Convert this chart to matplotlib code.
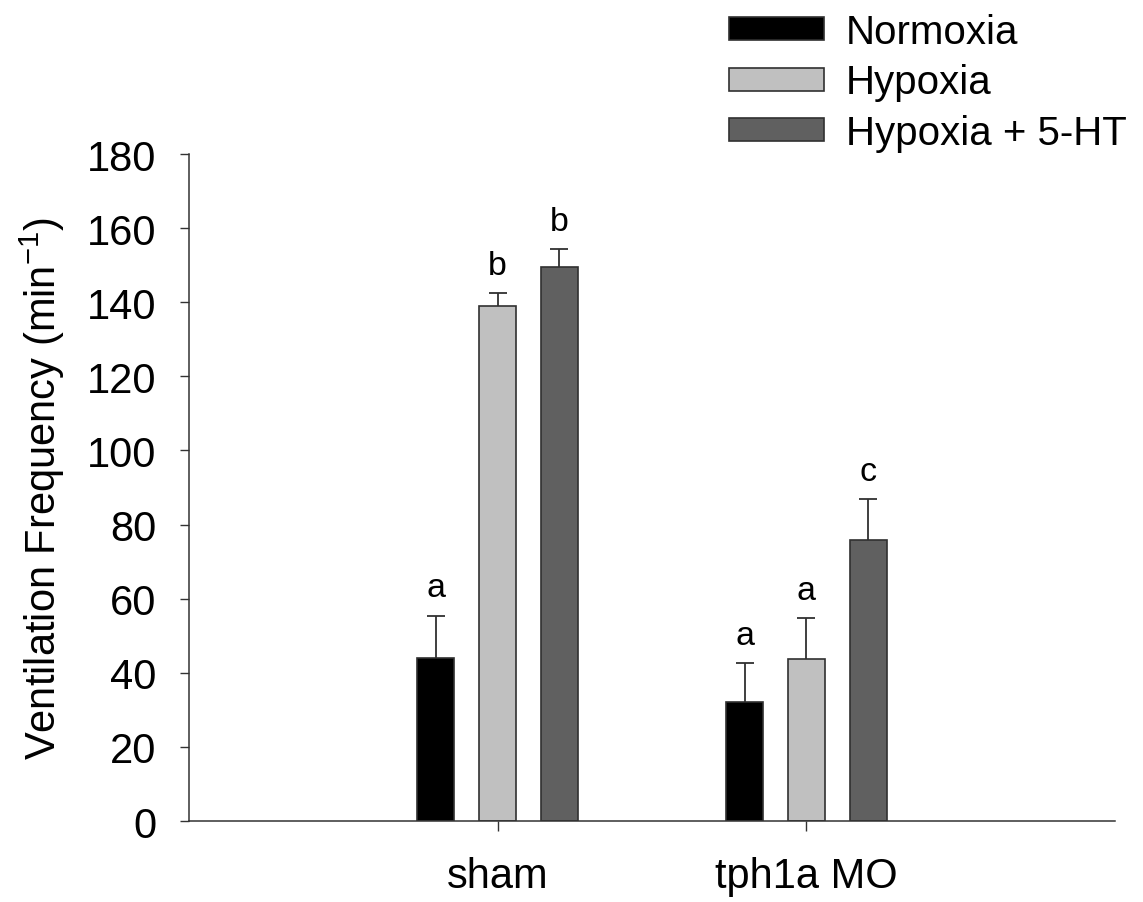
import matplotlib
matplotlib.use("Agg")
import matplotlib.pyplot as plt
import numpy as np

plt.rcParams['font.family'] = ['Liberation Sans', 'DejaVu Sans']
plt.rcParams['mathtext.fontset'] = 'custom'
plt.rcParams['mathtext.rm'] = 'Liberation Sans'
plt.rcParams['mathtext.it'] = 'Liberation Sans:italic'
plt.rcParams['mathtext.bf'] = 'Liberation Sans:bold'

# data
groups = ['sham', 'tph1a MO']
conditions = ['Normoxia', 'Hypoxia', 'Hypoxia + 5-HT']
means = {
    'Normoxia': [44.0, 32.2],
    'Hypoxia': [139.1, 43.7],
    'Hypoxia + 5-HT': [149.4, 75.9],
}
sems = {
    'Normoxia': [11.4, 10.4],
    'Hypoxia': [3.4, 11.0],
    'Hypoxia + 5-HT': [4.9, 11.0],
}
letters = {
    'Normoxia': ['a', 'a'],
    'Hypoxia': ['b', 'a'],
    'Hypoxia + 5-HT': ['b', 'c'],
}
colors = ['#000000', '#c0c0c0', '#606060']
edge = '#303030'

fig = plt.figure(figsize=(11.43, 9.03), dpi=100)
ax = fig.add_axes([0.1654, 0.0897, 0.9755 - 0.1654, 0.8283 - 0.0897])

x = np.arange(1, len(groups) + 1)
width = 0.12
offsets = [-0.2, 0.0, 0.2]

for cond, col, off in zip(conditions, colors, offsets):
    xs = x + off
    ax.bar(xs, means[cond], width, color=col, edgecolor=edge, linewidth=1.2,
           label=cond, zorder=2)
    err = np.array(sems[cond])
    _, caps, _ = ax.errorbar(xs, means[cond], yerr=[np.zeros_like(err), err],
                             fmt='none', ecolor=edge, elinewidth=1.3,
                             capsize=6.8, capthick=1.3, zorder=3)
    caps[0].set_visible(False)  # only upper caps
    for xi, m, e, lab in zip(xs, means[cond], err, letters[cond]):
        ax.annotate(lab, (xi, m + e), xytext=(0, 14), textcoords='offset points',
                    ha='center', va='baseline', fontsize=24.5)

ax.set_xlim(0, 3)
ax.set_ylim(0, 180)
ax.set_yticks(np.arange(0, 181, 20))
ax.set_xticks(x)
ax.set_xticklabels(groups)

for s in ['top', 'right']:
    ax.spines[s].set_visible(False)
for s in ['left', 'bottom']:
    ax.spines[s].set_color('#333333')
    ax.spines[s].set_linewidth(1.1)

ax.tick_params(axis='y', direction='out', length=6.5, width=1.0, color='#333333',
               labelsize=30, pad=17)
ax.tick_params(axis='x', direction='out', length=7, width=1.0, color='#333333',
               labelsize=30, pad=18)

ax.set_ylabel('Ventilation Frequency (min$^{-1}$)', fontsize=30)
ax.yaxis.set_label_coords(-0.132, 0.5)

fig.legend(loc='upper left', bbox_to_anchor=(729 / 1143, 1 - 14 / 903),
           bbox_transform=fig.transFigure, frameon=False, fontsize=29,
           handlelength=2.36, handleheight=0.5, handletextpad=0.55,
           labelspacing=0.31, borderpad=0, borderaxespad=0)

fig.savefig('out.png', dpi=100)
